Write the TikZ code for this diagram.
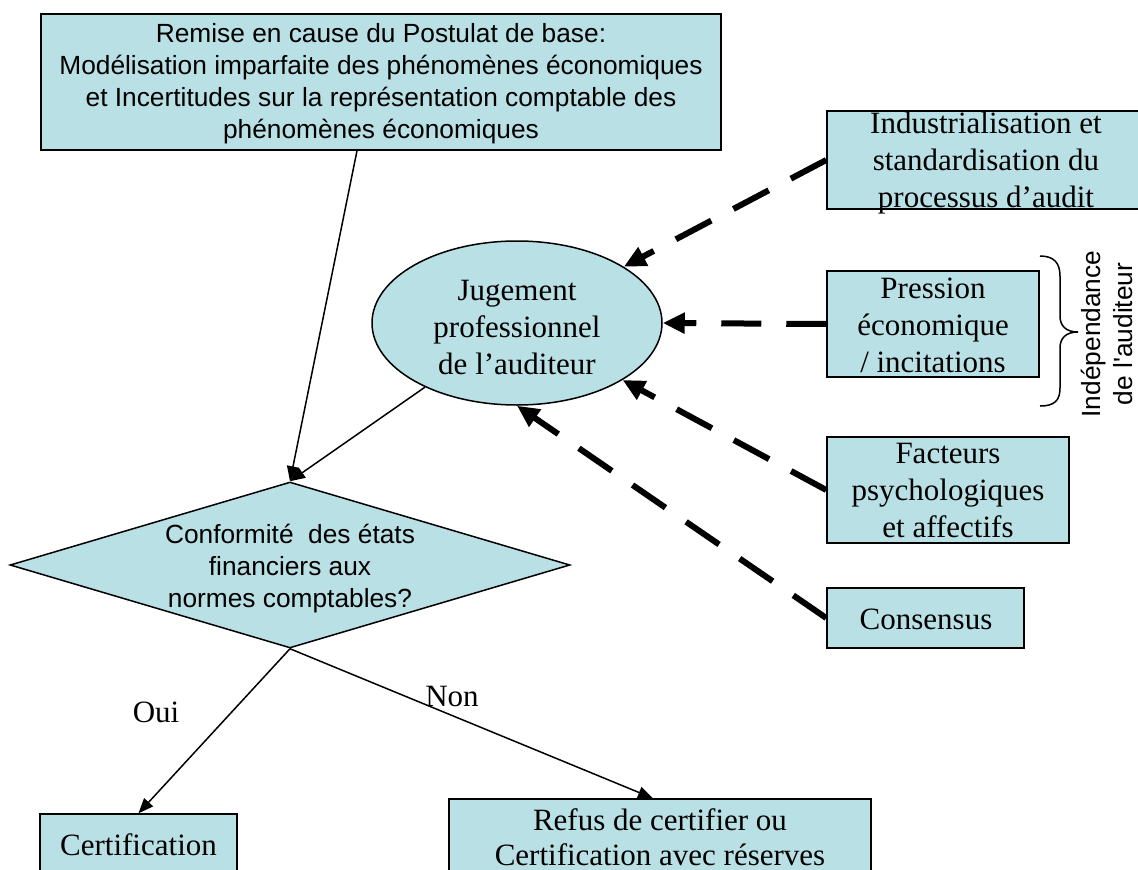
\documentclass[tikz,border=0pt]{standalone}
\usepackage{fontspec}
\setmainfont{Liberation Serif}
\newfontfamily\arialf[Ligatures=TeXOff]{Liberation Sans}
\usetikzlibrary{arrows.meta,shapes.geometric}
\definecolor{boxfill}{RGB}{185,224,228}
\begin{document}
\begin{tikzpicture}[x=1pt,y=-1pt,
  box/.style={draw=black, line width=1.5pt, fill=boxfill, inner sep=0pt},
  serif/.style={font=\fontsize{31}{37}\selectfont, align=center, inner sep=0pt},
  sans/.style={font=\arialf\fontsize{26.3}{32}\selectfont, align=center, inner sep=0pt},
  larr/.style={line width=1.5pt, -{Triangle[length=15pt,width=12pt]}},
  darr/.style={line width=6pt, dash pattern=on 40pt off 25pt, -{Triangle[length=22pt,width=20pt]}}]
\useasboundingbox (0,0) rectangle (1138,870);
\fill[white] (0,0) rectangle (1138,870);

% top box
\node[box, minimum width=680pt, minimum height=136pt] (top) at (381,82) {};
\node[sans] (toptxt) at (381,84) {Remise en cause du Postulat de base:\\Modélisation imparfaite des phénomènes économiques\\et Incertitudes sur la représentation comptable des\\phénomènes économiques};

% ellipse
\node[ellipse, draw=black, line width=1.5pt, fill=boxfill, minimum width=290pt, minimum height=164pt, inner sep=0pt] (jug) at (517,323) {};
\node[serif] (jugt) at (517,327) {Jugement\\professionnel\\de l’auditeur};

% diamond
\node[diamond, draw=black, line width=1.5pt, fill=boxfill, minimum width=560pt, minimum height=166pt, inner sep=0pt] (dia) at (290,565) {};
\node[sans] (diatxt) at (290,569) {Conformité\ \ des états\\financiers aux\\normes comptables?};

% right boxes
\node[box, minimum width=318pt, minimum height=98pt] (ind) at (986,160) {};
\node[serif] (indt) at (986,163) {Industrialisation et\\standardisation du\\processus d’audit};
\node[box, minimum width=212pt, minimum height=106pt] (pr) at (933,324) {};
\node[serif] (prt) at (933,325) {Pression\\économique\\/ incitations};
\node[box, minimum width=242pt, minimum height=106pt] (fac) at (948,490) {};
\node[serif] (fact) at (948,490) {Facteurs\\psychologiques\\et affectifs};
\node[box, minimum width=197pt, minimum height=60pt] (cons) at (925.5,618) {};
\node[serif] (const) at (926,619.5) {Consensus};

% bottom boxes
\node[box, minimum width=197pt, minimum height=86pt] (cert) at (138.5,857) {};
\node[serif] (certt) at (138.5,844.5) {Certification};
\node[box, minimum width=422pt, minimum height=106pt] (ref) at (660,852) {};
\node[serif, font=\fontsize{31}{35}\selectfont] (reft) at (660,837) {Refus de certifier ou\\Certification avec réserves};

% brace and label
\draw[line width=1.5pt] (1040,256) .. controls (1054,256) and (1060,263) .. (1060,276) -- (1060,316) .. controls (1060,326) and (1066,332) .. (1078,332) .. controls (1066,332) and (1060,338) .. (1060,348) -- (1060,388) .. controls (1060,401) and (1054,406) .. (1040,406);
\node[sans, rotate=90, font=\arialf\fontsize{26.3}{32}\selectfont] (indep) at (1107,334) {Indépendance\\de l'auditeur};

% thin arrows
\draw[larr] ([xshift=-24pt]top.south) -- (dia.north);
\draw[larr] (jug) -- (dia.north);
\draw[larr] (dia.south) -- (cert.north);
\draw[larr] (dia.south) -- ([xshift=-7pt]ref.north);
\node[serif] (oui) at (156,712) {Oui};
\node[serif] (non) at (452,696) {Non};

% dashed arrows
\draw[darr] (ind.west) -- (jug);
\draw[darr] (pr.west) -- (jug.east);
\draw[darr] (fac.west) -- (jug);
\draw[darr] (cons.west) -- (jug.south);
\end{tikzpicture}
\end{document}
